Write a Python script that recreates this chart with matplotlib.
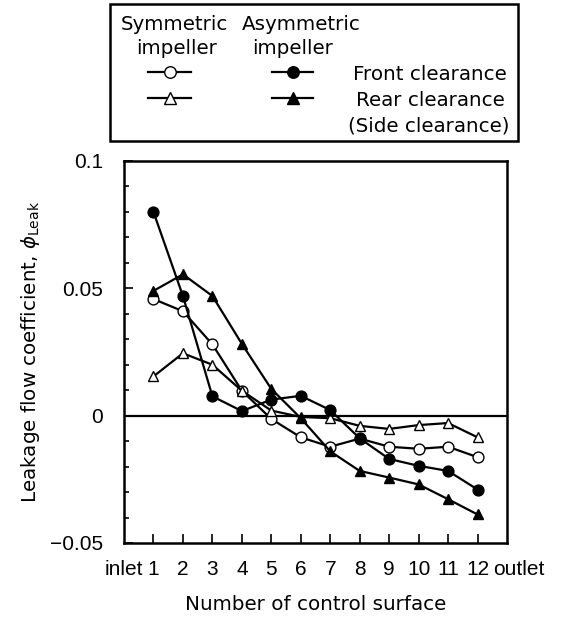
import matplotlib
matplotlib.use("Agg")
import matplotlib.pyplot as plt
from matplotlib.lines import Line2D
from matplotlib.patches import Rectangle
from matplotlib.ticker import MultipleLocator
from matplotlib.transforms import ScaledTranslation

plt.rcParams['font.family'] = ['DejaVu Sans']
plt.rcParams['mathtext.fontset'] = 'dejavusans'

surfaces = list(range(1, 13))
tick_positions = list(range(0, 14))
tick_labels = ['inlet'] + [str(i) for i in range(1, 13)] + ['outlet']

sym_front = [0.0458, 0.0410, 0.0280, 0.0098, -0.0013, -0.0085, -0.0122, -0.0090, -0.0122, -0.0130, -0.0122, -0.0163]
sym_rear = [0.0154, 0.0245, 0.0200, 0.0098, 0.0020, -0.0005, -0.0010, -0.0040, -0.0052, -0.0037, -0.0029, -0.0085]
asym_front = [0.0800, 0.0470, 0.0076, 0.0018, 0.0063, 0.0078, 0.0022, -0.0089, -0.0170, -0.0197, -0.0217, -0.0290]
asym_rear = [0.0490, 0.0555, 0.0470, 0.0282, 0.0105, -0.0010, -0.0140, -0.0217, -0.0243, -0.0270, -0.0328, -0.0388]

W, H = 568, 622
fig = plt.figure(figsize=(W / 100, H / 100), dpi=100)
ax = fig.add_axes([124 / W, 1 - 543 / H, (507 - 124) / W, (543 - 161) / H])

lw = 1.6
ms = 7.8
common = dict(color='black', lw=lw, ms=ms, clip_on=False, zorder=3)
ax.plot(surfaces, sym_front, marker='o', mfc='white', mec='black', mew=1.0, **common)
ax.plot(surfaces, sym_rear, marker='^', mfc='white', mec='black', mew=1.0, **common)
ax.plot(surfaces, asym_front, marker='o', mfc='black', mec='black', **common)
ax.plot(surfaces, asym_rear, marker='^', mfc='black', mec='black', **common)

ax.axhline(0, color='black', lw=1.6, zorder=2)

ax.set_xlim(0, 13)
ax.set_ylim(-0.05, 0.1)
ax.set_xticks(tick_positions)
ax.set_xticklabels(tick_labels)
ax.set_yticks([-0.05, 0, 0.05, 0.1])
ax.set_yticklabels(['\u22120.05', '0', '0.05', '0.1'])
ax.yaxis.set_minor_locator(MultipleLocator(0.01))
fs = 14.3
tick_font = ['Liberation Sans', 'DejaVu Sans']
ax.tick_params(axis='both', which='major', direction='in', width=1.2)
ax.tick_params(axis='x', which='major', length=6.5, pad=12.5)
ax.tick_params(axis='y', which='major', length=6.5, pad=15)
ax.tick_params(axis='y', which='minor', direction='in', length=3.8, width=1.2)
for lbl in ax.get_xticklabels() + ax.get_yticklabels():
    lbl.set_fontfamily(tick_font)
    lbl.set_fontsize(15)
xt = ax.xaxis.get_major_ticks()
xt[0].tick1line.set_visible(False)
xt[-1].tick1line.set_visible(False)
out_lbl = xt[-1].label1
out_lbl.set_horizontalalignment('left')
out_lbl.set_transform(out_lbl.get_transform() + ScaledTranslation(-0.14, 0, fig.dpi_scale_trans))
for s in ax.spines.values():
    s.set_linewidth(1.8)

ax.set_xlabel('Number of control surface', fontsize=fs, labelpad=11)
ax.set_ylabel('Leakage flow coefficient, $\\phi_{\\rm Leak}$', fontsize=fs, labelpad=6)

# legend box
fig.patches.append(Rectangle((110 / W, 1 - 141 / H), (518 - 110) / W, (141 - 4) / H,
                             transform=fig.transFigure, fill=False, ec='black', lw=1.8))

def fy(y):
    return 1 - y / H

def fx(x):
    return x / W

fig.text(fx(174), fy(24), 'Symmetric', ha='center', va='center', fontsize=fs)
fig.text(fx(177), fy(49), 'impeller', ha='center', va='center', fontsize=fs)
fig.text(fx(301), fy(24), 'Asymmetric', ha='center', va='center', fontsize=fs)
fig.text(fx(293), fy(49), 'impeller', ha='center', va='center', fontsize=fs)

leg_items = [
    (148, 191, 72, 'o', 'white'),
    (148, 191, 98, '^', 'white'),
    (272, 313, 72, 'o', 'black'),
    (272, 313, 98, '^', 'black'),
]
for x0, x1, y, m, fc in leg_items:
    fig.add_artist(Line2D([fx(x0), fx(x1)], [fy(y), fy(y)], transform=fig.transFigure,
                          color='black', lw=lw))
    fig.add_artist(Line2D([fx((x0 + x1) / 2)], [fy(y)], transform=fig.transFigure,
                          marker=m, ms=ms + 0.5, mfc=fc, mec='black', mew=1.0, lw=0))

fig.text(fx(430), fy(74), 'Front clearance', ha='center', va='center', fontsize=fs)
fig.text(fx(430), fy(100), 'Rear clearance', ha='center', va='center', fontsize=fs)
fig.text(fx(429), fy(126), '(Side clearance)', ha='center', va='center', fontsize=fs)

fig.savefig('out.png', dpi=100)
